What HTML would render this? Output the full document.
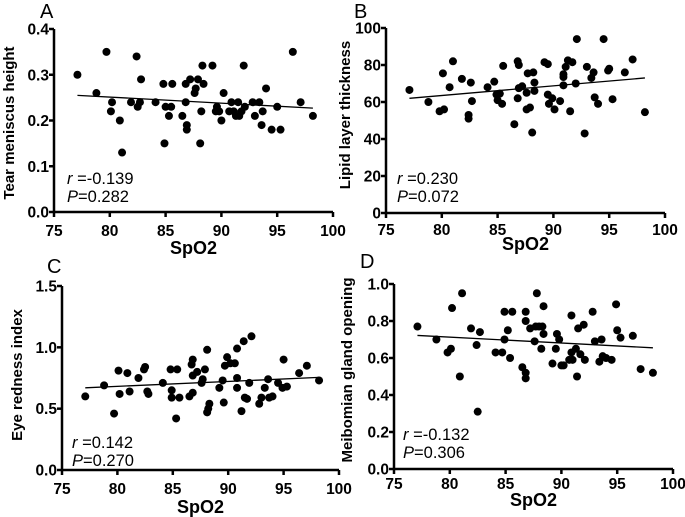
<!DOCTYPE html>
<html><head><meta charset="utf-8"><style>
html,body{margin:0;padding:0;background:#fff;}
svg{display:block;font-family:"Liberation Sans",Arial,sans-serif;}
</style></head><body>
<svg id="fig" width="685" height="517" viewBox="0 0 685 517" xmlns="http://www.w3.org/2000/svg"></svg>
<script>
const spo2A=[77.1,78.8,79.7,80.1,80.2,80.9,81.1,81.9,82.4,82.5,82.7,82.8,84.1,84.8,84.9,85.0,85.3,85.5,85.6,86.5,86.8,86.8,86.9,86.9,87.2,87.6,87.7,87.9,88.1,88.2,88.3,88.4,89.2,89.5,89.6,89.8,90.0,90.2,90.7,90.9,91.1,91.3,91.5,91.6,91.8,92.0,92.1,92.8,93.0,93.4,93.6,93.7,94.0,94.5,95.0,95.3,96.4,97.1,98.2];
const tearA=[0.30,0.26,0.35,0.22,0.24,0.20,0.13,0.24,0.34,0.23,0.24,0.29,0.24,0.28,0.15,0.23,0.21,0.23,0.28,0.21,0.28,0.24,0.19,0.18,0.29,0.26,0.27,0.29,0.15,0.22,0.32,0.28,0.32,0.22,0.23,0.22,0.20,0.26,0.22,0.24,0.22,0.21,0.24,0.21,0.22,0.32,0.23,0.24,0.21,0.24,0.19,0.22,0.27,0.18,0.23,0.18,0.35,0.24,0.21];
const spo2B=[77.1,78.8,79.8,80.1,80.2,80.7,81.0,81.8,82.4,82.4,82.6,82.7,84.1,84.7,84.9,85.0,85.2,85.4,85.5,86.5,86.8,86.8,86.9,86.9,87.2,87.6,87.6,87.7,87.9,88.1,88.2,88.3,88.3,89.2,89.5,89.5,89.6,89.9,90.1,90.6,90.9,90.9,90.9,91.1,91.3,91.5,91.7,92.0,92.1,92.8,93.0,93.4,93.6,93.7,94.0,94.5,94.9,95.0,95.3,96.4,97.1,98.2];
const lipidB=[66.5,60,55,75.5,56,68,82,72.5,53,51,70.5,60.5,68,71,64,61,64.5,59,79.5,48,82,62,80,67.5,68.5,56,65,75.5,57,43.5,76,70.5,66,81.5,80.5,64,59,62,56,60.5,75,73.5,69,79,82.5,55,81.5,70,94,43,79,73,76,62.5,59,94,77,78,61.5,76,83,54.5];
const spo2C=[77.1,78.8,79.7,80.1,80.2,80.9,81.1,81.9,82.4,82.5,82.7,82.8,84.1,84.8,84.9,84.9,85.3,85.4,85.6,86.5,86.7,86.8,86.8,86.8,87.2,87.6,87.7,87.9,88.1,88.1,88.2,88.3,89.2,89.5,89.6,89.7,89.9,90.2,90.6,90.8,90.8,90.8,91.2,91.4,91.5,91.7,91.9,92.1,92.8,93.0,93.3,93.6,93.7,94.0,94.5,94.9,95.0,95.3,96.4,97.1,98.2];
const rednessC=[0.60,0.69,0.46,0.81,0.62,0.79,0.64,0.75,0.82,0.84,0.64,0.62,0.71,0.82,0.65,0.59,0.42,0.82,0.59,0.60,0.86,0.90,0.77,0.63,0.80,0.71,0.74,0.82,0.98,0.47,0.50,0.54,0.67,0.73,0.55,0.85,0.92,0.87,0.87,0.99,0.75,0.67,0.48,1.05,0.59,0.58,0.71,1.09,0.54,0.59,0.67,0.74,0.59,0.60,0.71,0.67,0.90,0.68,0.79,0.85,0.73];
const spo2D=[77.1,78.8,79.8,80.1,80.2,80.9,81.1,81.9,82.4,82.5,82.7,84.1,84.7,84.9,84.9,85.2,85.4,85.6,86.5,86.8,86.8,86.8,86.8,87.2,87.6,87.8,87.7,88.0,88.2,88.3,88.4,88.4,89.2,89.5,89.6,89.8,90.0,90.2,90.7,90.9,90.9,91.0,91.3,91.4,91.5,91.7,92.0,92.1,92.8,93.0,93.4,93.6,93.7,94.0,94.5,94.9,95.0,95.3,96.4,97.1,98.2];
const meibomD=[0.77,0.70,0.63,0.65,0.87,0.50,0.95,0.76,0.67,0.31,0.74,0.63,0.63,0.85,0.70,0.75,0.60,0.85,0.55,0.52,0.49,0.85,0.80,0.76,0.69,0.95,0.77,0.77,0.65,0.77,0.88,0.73,0.57,0.65,0.73,0.70,0.56,0.56,0.59,0.83,0.63,0.59,0.65,0.50,0.76,0.62,0.78,0.59,0.85,0.69,0.58,0.70,0.61,0.60,0.59,0.89,0.75,0.71,0.72,0.54,0.52];
const xTicks=[75,80,85,90,95,100];
const yTicksA=["0.0","0.1","0.2","0.3","0.4"];
const yTicksB=["0","20","40","60","80","100"];
const yTicksC=["0.0","0.5","1.0","1.5"];
const yTicksD=["0.0","0.2","0.4","0.6","0.8","1.0"];
const fitA=[0.255,0.227], fitB=[62,73], fitC=[0.67,0.755], fitD=[0.722,0.655];
const statsA=["-0.139","0.282"], statsB=["0.230","0.072"], statsC=["0.142","0.270"], statsD=["-0.132","0.306"];

const NS="http://www.w3.org/2000/svg";
const svg=document.getElementById('fig');
function mk(tag,attrs,parent,text){const e=document.createElementNS(NS,tag);for(const k in attrs)e.setAttribute(k,attrs[k]);if(text!==undefined)e.textContent=text;(parent||svg).appendChild(e);return e;}

function panel(cfg){
  const g=mk('g',{});
  
  
  const ymax=parseFloat(cfg.yt[cfg.yt.length-1]);
  const sx=v=>cfg.x0+(v-75)/25*(cfg.x1-cfg.x0);
  const sy=v=>cfg.yb-(v/ymax)*(cfg.yb-cfg.yt0);
  const lt=mk('text',{x:cfg.lx,y:cfg.ly,'font-size':20,fill:'#000'},g,cfg.id.toUpperCase());
  
  
  const ya=mk('line',{x1:cfg.x0,y1:cfg.yt0,x2:cfg.x0,y2:cfg.yb,stroke:'#000','stroke-width':2.5},g);
  
  
  const xa=mk('line',{x1:cfg.x0-1,y1:cfg.yb,x2:cfg.x1,y2:cfg.yb,stroke:'#000','stroke-width':2.5},g);
  
  
  cfg.yt.forEach(t=>{const y=sy(parseFloat(t));
    mk('line',{x1:cfg.x0-5,y1:y,x2:cfg.x0,y2:y,stroke:'#000','stroke-width':2.5},g);
    const tl=mk('text',{x:cfg.x0-5,y:y+5.5,'font-size':15.5,'font-weight':'bold','text-anchor':'end'},g,t);
    
    
  });
  xTicks.forEach(t=>{const x=sx(t);
    mk('line',{x1:x,y1:cfg.yb,x2:x,y2:cfg.yb+5,stroke:'#000','stroke-width':2.5},g);
    const tl=mk('text',{x:x,y:cfg.yb+cfg.xlOff,'font-size':15.5,'font-weight':'bold','text-anchor':'middle'},g,String(t));
    
    
  });
  const xt=mk('text',{x:(cfg.x0+cfg.x1)/2,y:cfg.yb+cfg.xtOff,'font-size':18,'font-weight':'bold','text-anchor':'middle'},g,'SpO2');
  
  
  const yt=mk('text',{x:0,y:0,'font-size':cfg.ytfs,'font-weight':'bold','text-anchor':'middle',transform:`translate(${cfg.ytx},${cfg.ytc}) rotate(-90)`},g,cfg.ytitle);
  
  
  cfg.xs.forEach((v,i)=>{
    const c=mk('circle',{cx:sx(v),cy:sy(cfg.ys[i]),r:4,fill:'#000'},g);
    
    
  });
  const fl=mk('line',{x1:sx(77.1),y1:sy(cfg.fit[0]),x2:sx(98.2),y2:sy(cfg.fit[1]),stroke:'#000','stroke-width':1.3},g);
  
  
  const r=mk('text',{x:cfg.sx,y:cfg.sy,'font-size':16.5},g);
  
  
  mk('tspan',{'font-style':'italic'},r,'r');
  mk('tspan',{},r,' =' + cfg.st[0]);
  const p=mk('text',{x:cfg.sx,y:cfg.sy+18,'font-size':16.5},g);
  
  
  mk('tspan',{'font-style':'italic'},p,'P');
  mk('tspan',{},p,'='+cfg.st[1]);
}
panel({id:'a',xs:spo2A,ys:tearA,yt:yTicksA,fit:fitA,st:statsA,x0:54,x1:333,yt0:29,yb:212,lx:40,ly:18,ytitle:'Tear meniscus height',ytfs:15,ytx:14,ytc:123,sx:67,sy:184,xlOff:24,xtOff:42,});
panel({id:'b',xs:spo2B,ys:lipidB,yt:yTicksB,fit:fitB,st:statsB,x0:386,x1:665,yt0:28,yb:213,lx:354,ly:18,ytitle:'Lipid layer thickness',ytfs:15,ytx:350,ytc:115,sx:397,sy:184,xlOff:22,xtOff:37});
panel({id:'c',xs:spo2C,ys:rednessC,yt:yTicksC,fit:fitC,st:statsC,x0:62,x1:339,yt0:286,yb:470,lx:47,ly:273,ytitle:'Eye redness index',ytfs:15,ytx:22,ytc:375,sx:72,sy:448,xlOff:24,xtOff:43});
panel({id:'d',xs:spo2D,ys:meibomD,yt:yTicksD,fit:fitD,st:statsD,x0:394,x1:673,yt0:284,yb:469,lx:360,ly:268,ytitle:'Meibomian gland opening',ytfs:15,ytx:352,ytc:370,sx:403,sy:440,xlOff:20,xtOff:37});
</script>
</body></html>
